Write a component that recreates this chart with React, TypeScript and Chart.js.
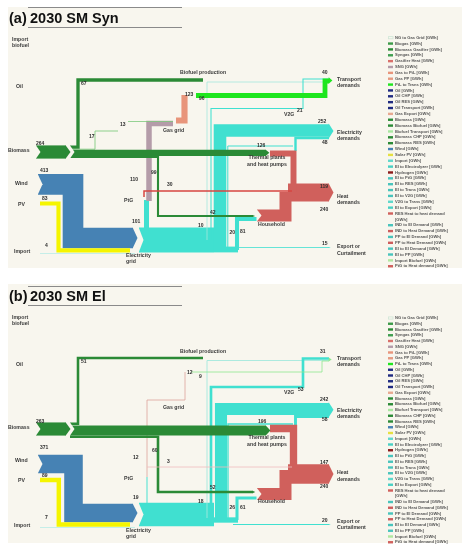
import React, { useEffect, useRef } from 'react';
import { Chart, registerables } from 'chart.js';

Chart.register(...registerables);

// visual thickness: GWh -> data units (1 data unit == 1 px)
const K = 0.05;

// ---------------- DATA: panel (a) 2030 SM Syn ----------------
const SOURCES_A = [264, 413, 83, 4]; // biomass, wind, PV, import
const BIOMASS_USE_A = [67, 17, 13, 126, 42]; // biofuel, biogas, biogas to grid, thermal plants, household
const GAS_A = [101, 110, 123, 96, 30]; // el->PtG, SNG, gas->PtL, PtL->transport, hydrogen
const ELEC_A = [252, 48, 10, 21, 20, 81, 15]; // el demand, PP->el demand, el->trans, V2G, el->PP, el->household, export
const HEAT_A = [119, 240]; // thermal plants -> heat, household -> heat
const NUM_TEXT_A = ['264', '413', '83', '4', '67', '17', '13', '123', '96', '110', '99', '101', '30', '42', '10', '20', '81', '126', '40', '21', '252', '48', '119', '240', '15'];

// ---------------- DATA: panel (b) 2030 SM El ----------------
const SOURCES_B = [263, 371, 89, 7];
const BIOMASS_USE_B = [51, 0, 0, 196, 52];
const GAS_B = [19, 12, 0, 9, 3];
const ELEC_B = [242, 58, 18, 53, 26, 61, 20];
const HEAT_B = [147, 240];
const NUM_TEXT_B = ['263', '371', '89', '7', '51', '12', '9', '12', '60', '19', '3', '52', '18', '26', '61', '196', '31', '53', '242', '58', '147', '240', '20'];

const NODE_TEXT = ['Import', 'biofuel', 'Oil', 'Biomass', 'Wind', 'PV', 'Import', 'Biofuel production', 'Gas grid', 'PtG', 'V2G', 'Electricity', 'grid', 'Thermal plants', 'and heat pumps', 'Household', 'Transport', 'demands', 'Electricity', 'demands', 'Heat', 'demands', 'Export or', 'Curtailment'];

const LEGEND_TEXT = ['NG to Gas Grid [GWh]', 'Biogas [GWh]', 'Biomass Gasifier [GWh]', 'Syngas [GWh]', 'Gasifier Heat [GWh]', 'SNG [GWh]', 'Gas to PtL [GWh]', 'Gas PP [GWh]', 'PtL to Trans [GWh]', 'Oil [GWh]', 'Oil CHP [GWh]', 'Oil RES [GWh]', 'Oil Transport [GWh]', 'Gas Export [GWh]', 'Biomass [GWh]', 'Biomass Biofuel [GWh]', 'Biofuel Transport [GWh]', 'Biomass CHP [GWh]', 'Biomass RES [GWh]', 'Wind [GWh]', 'Solar PV [GWh]', 'Import [GWh]', 'El to Electrolyzer [GWh]', 'Hydrogen [GWh]', 'El to PtG [GWh]', 'El to RES [GWh]', 'El to Trans [GWh]', 'El to V2G [GWh]', 'V2G to Trans [GWh]', 'El to Export [GWh]', 'RES Heat to heat demand|[GWh]', 'IND to El Demand [GWh]', 'IND to Heat Demand [GWh]', 'PP to El Demand [GWh]', 'PP to Heat Demand [GWh]', 'El to El Demand [GWh]', 'El to PP [GWh]', 'Import Biofuel [GWh]', 'PtG to Heat demand [GWh]'];

// ---------------- STYLE ----------------
const CREAM = '#f8f6ee';
const GREEN = '#2b8a36';
const LGREEN = '#7cc97c';
const MAUVE = '#b49ca9';
const SALMON = '#e8957b';
const LIME = '#1ee61e';
const CYAN = '#40e0d0';
const PALE = '#a3e9dc';
const BLUE = '#4682b4';
const YELLOW = '#f5f500';
const RED = '#d0605c';
const TEAL = '#48c4bc';
const NAVY = '#1f2a80';

const LEGEND_COLORS = ['#cfe6d6', '#3c9a48', GREEN, '#3f9e50', '#d9706a', MAUVE, SALMON, '#e59a80', LIME, NAVY, NAVY, NAVY, NAVY, '#e8a890', GREEN, GREEN, '#a8e8a0', GREEN, GREEN, BLUE, '#e6e040', '#5fd8cc', '#48d0c4', '#8b1a1a', TEAL, TEAL, TEAL, TEAL, '#5fd8cc', '#48d0c4', RED, TEAL, '#cd5c5c', TEAL, '#cd5c5c', TEAL, TEAL, '#b0e8a0', RED];

const FLOW_KEYS = ['import', 'elGrid', 'elBridge', 'elTrans', 'v2g', 'elPP', 'elHH', 'export', 'elDemand', 'ppElDemand', 'elPtG', 'ptgGas', 'bioGas', 'bioGas2', 'gasPtL', 'ptlTrans', 'biomass', 'bioFuel', 'bioPP', 'bioHH', 'wind', 'pv', 'heatArrow', 'heatPP', 'heatHH', 'hydrogen'];

const COLORS_A: Record<string, string> = {
  import: '#b8ece6', elGrid: CYAN, elBridge: CYAN, elTrans: PALE, v2g: CYAN, elPP: CYAN, elHH: CYAN, export: CYAN,
  elDemand: CYAN, ppElDemand: CYAN, elPtG: CYAN, ptgGas: MAUVE, bioGas: LGREEN, bioGas2: LGREEN, gasPtL: SALMON,
  ptlTrans: LIME, biomass: GREEN, bioFuel: GREEN, bioPP: GREEN, bioHH: GREEN, wind: BLUE, pv: YELLOW,
  heatArrow: RED, heatPP: RED, heatHH: RED, hydrogen: '#d64541',
};
const COLORS_B: Record<string, string> = { ...COLORS_A, ptgGas: '#dca39a', ptlTrans: '#8ee88e', hydrogen: '#efbcbc' };

function buildValues(src: number[], bio: number[], gas: number[], el: number[], heat: number[]) {
  const v: Record<string, number> = {
    biomass: src[0], wind: src[1], pv: src[2], import: src[3],
    bioFuel: bio[0], bioGas: bio[1], bioGas2: bio[2], bioPP: bio[3], bioHH: bio[4],
    elPtG: gas[0], ptgGas: gas[1], gasPtL: gas[2], ptlTrans: gas[3], hydrogen: gas[4],
    elDemand: el[0], ppElDemand: el[1], elTrans: el[2], v2g: el[3], elPP: el[4], elHH: el[5], export: el[6],
    heatPP: heat[0], heatHH: heat[1],
  };
  v.elGrid = v.wind + v.pv + v.import;
  v.elBridge = v.elPP + v.elHH + v.export;
  v.heatArrow = v.heatPP + v.heatHH;
  return v;
}

// ---------------- LAYOUT (routes in panel coordinates) ----------------
type Pt = [number, number];
const ROUTES_A: Record<string, Pt[]> = {
  biomass: [[36, 152], [66, 152]],
  bioFuel: [[70, 147.1], [78, 147.1], [78, 80], [203, 80]],
  bioGas: [[70, 149.2], [95, 149.2], [95, 131], [118, 131]],
  bioGas2: [[128, 121.5], [173, 121.5]],
  bioPP: [[70, 152.8], [266, 152.8]],
  bioHH: [[70, 157], [158, 157], [158, 216], [253, 216]],
  wind: [[38, 184.3], [73, 184.3], [73, 238], [133, 238]],
  pv: [[40, 203.5], [58.5, 203.5], [58.5, 250.3], [130, 250.3]],
  import: [[40, 253.5], [135, 253.5]],
  elGrid: [[139, 240], [214, 240]],
  elBridge: [[214, 249.5], [238, 249.5]],
  elPtG: [[146.5, 228], [146.5, 200]],
  ptgGas: [[149, 201], [149, 123.5], [173, 123.5]],
  gasPtL: [[176, 120.5], [184.5, 120.5], [184.5, 95]],
  ptlTrans: [[196, 95.5], [325, 95.5], [325, 81], [329, 81]],
  hydrogen: [[144, 197], [144, 191], [292, 191]],
  elDemand: [[220, 252], [220, 130.5], [329, 130.5]],
  ppElDemand: [[295.5, 151], [295.5, 138], [329, 138]],
  elTrans: [[207, 240], [207, 82], [329, 82]],
  v2g: [[211, 240], [211, 108.5], [303, 108.5], [303, 79], [329, 79]],
  elPP: [[227.8, 250], [227.8, 146], [293, 146]],
  elHH: [[237, 250], [237, 219], [257, 219]],
  export: [[233, 247.5], [329, 247.5]],
  heatPP: [[270, 153.5], [293.5, 153.5], [293.5, 192]],
  heatHH: [[257, 215.5], [285.5, 215.5], [285.5, 192]],
  heatArrow: [[288, 192.5], [329, 192.5]],
};
const ROUTES_B: Record<string, Pt[]> = {
  biomass: [[36, 151], [66, 151]],
  bioFuel: [[70, 145.7], [78, 145.7], [78, 80], [203, 80]],
  bioPP: [[70, 152.5], [266, 152.5]],
  bioHH: [[70, 158.7], [158, 158.7], [158, 214], [253, 214]],
  wind: [[38, 186], [73.5, 186], [73.5, 235], [133, 235]],
  pv: [[40, 202], [58.8, 202], [58.8, 246.5], [130, 246.5]],
  import: [[40, 249.5], [135, 249.5]],
  elGrid: [[139, 236.5], [214, 236.5]],
  elBridge: [[214, 242], [238, 242]],
  elPtG: [[147, 226], [147, 199]],
  ptgGas: [[147, 199], [147, 122], [185, 122], [185, 94]],
  ptlTrans: [[191, 94], [322, 94], [322, 83], [329, 83]],
  hydrogen: [[147, 189], [292, 189]],
  elDemand: [[221, 244], [221, 131], [329, 131]],
  ppElDemand: [[295.5, 148], [295.5, 138.5], [329, 138.5]],
  elTrans: [[207, 240], [207, 82.5], [329, 82.5]],
  v2g: [[211, 240], [211, 109], [303, 109], [303, 80.5], [329, 80.5]],
  elPP: [[228, 240], [228, 146], [293, 146]],
  elHH: [[237, 242], [237, 220], [257, 220]],
  export: [[233, 246.5], [329, 246.5]],
  heatPP: [[270, 150.5], [293.5, 150.5], [293.5, 190]],
  heatHH: [[257, 216], [285.5, 216], [285.5, 192]],
  heatArrow: [[288, 196], [329, 196]],
};

type Deco = { keys: string[]; x: number; y: number };
const TIPS_A: Deco[] = [
  { keys: ['biomass'], x: 66, y: 152 }, { keys: ['bioPP'], x: 266, y: 152.8 }, { keys: ['bioHH'], x: 253, y: 216 },
  { keys: ['wind'], x: 133, y: 238 }, { keys: ['elDemand', 'ppElDemand'], x: 329, y: 131.1 },
  { keys: ['ptlTrans', 'v2g', 'elTrans'], x: 329, y: 80.5 }, { keys: ['heatPP', 'heatHH'], x: 329, y: 192.5 },
  { keys: ['export'], x: 329, y: 247.5 },
];
const NOTCHES_A: Deco[] = [
  { keys: ['biomass'], x: 36, y: 152 }, { keys: ['biomass'], x: 70, y: 152 }, { keys: ['wind'], x: 38, y: 184.3 },
  { keys: ['elGrid'], x: 139, y: 240 }, { keys: ['heatHH'], x: 257, y: 215.5 },
];
const TIPS_B: Deco[] = [
  { keys: ['biomass'], x: 66, y: 151 }, { keys: ['bioPP'], x: 266, y: 152.5 }, { keys: ['bioHH'], x: 253, y: 214 },
  { keys: ['wind'], x: 133, y: 235 }, { keys: ['elDemand', 'ppElDemand'], x: 329, y: 131.8 },
  { keys: ['ptlTrans', 'v2g', 'elTrans'], x: 329, y: 81.5 }, { keys: ['heatPP', 'heatHH'], x: 329, y: 196 },
  { keys: ['export'], x: 329, y: 246.5 },
];
const NOTCHES_B: Deco[] = [
  { keys: ['biomass'], x: 36, y: 151 }, { keys: ['biomass'], x: 70, y: 151 }, { keys: ['wind'], x: 38, y: 186 },
  { keys: ['elGrid'], x: 139, y: 236.5 }, { keys: ['heatHH'], x: 257, y: 216 },
];

const NUM_POS_A: Pt[] = [[36, 144], [40, 171], [42, 199], [45, 246], [81, 84], [89, 137], [120, 125], [185, 95], [199, 99], [130, 180], [151, 173], [132, 222], [167, 185], [210, 213], [198, 226], [229.5, 233], [240, 232], [257, 146], [322, 73], [297, 111], [318, 122], [322, 143], [320, 187], [320, 210], [322, 244]];
const NUM_POS_B: Pt[] = [[36, 144], [40, 170], [42, 198], [45, 240], [81, 84], [187, 95], [199, 99], [133, 180], [152, 173], [133, 220], [167, 184], [210, 210], [198, 224], [229.5, 230], [240, 230], [258, 144], [320, 74], [298, 112], [320, 122], [322, 142], [320, 185], [320, 209], [322, 243]];

const NODE_POS_A: Pt[] = [[12, 40], [12, 45.5], [16, 87], [8, 151], [15, 184], [18, 205], [14, 252], [180, 73], [163, 131], [124, 201], [284, 115], [126, 256], [126, 262], [267, 158], [267, 164.5], [258, 225], [337, 80], [337, 86], [337, 133], [337, 139], [337, 197], [337, 203], [337, 247], [337, 253.5]];
const NODE_POS_B: Pt[] = [[12, 40], [12, 45.5], [16, 87], [8, 150], [15, 183], [18, 203], [14, 248], [180, 74], [163, 130], [124, 201], [284, 115], [126, 253], [126, 259], [267, 160], [267, 166.5], [258, 224], [337, 81], [337, 86.5], [337, 133], [337, 138.5], [337, 195], [337, 201.5], [337, 244], [337, 250]];

type PanelCfg = {
  title: string; letter: string; height: number;
  values: Record<string, number>; routes: Record<string, Pt[]>; colors: Record<string, string>;
  tips: Deco[]; notches: Deco[]; numText: string[]; numPos: Pt[]; nodePos: Pt[];
  bg: [number, number, number, number]; lines: [number, number]; legendY0: number; legendStep: number;
};

const FONT = '"Liberation Sans", Arial, sans-serif';

function Panel({ cfg }: { cfg: PanelCfg }) {
  const ref = useRef<HTMLCanvasElement>(null);
  useEffect(() => {
    const canvas = ref.current;
    if (!canvas) return;
    const N = FLOW_KEYS.length;
    const wOf = (chart: any, v: number) => {
      const s = chart.scales.y;
      return Math.abs(s.getPixelForValue(v * K) - s.getPixelForValue(0));
    };
    const datasets = FLOW_KEYS.map((key, i) => ({ key, i }))
      .filter(({ key }) => cfg.routes[key] && cfg.values[key] > 0)
      .map(({ key, i }) => ({
        label: key,
        data: cfg.routes[key].map(([x, y]) => ({ x, y })),
        borderColor: cfg.colors[key],
        backgroundColor: cfg.colors[key],
        borderWidth: (ctx: any) => Math.max(0.8, wOf(ctx.chart, cfg.values[key])),
        pointRadius: 0,
        pointHoverRadius: 0,
        fill: false,
        tension: 0,
        borderJoinStyle: 'miter' as const,
        borderCapStyle: 'butt' as const,
        order: N - i,
      }));

    const deco = {
      id: 'sankeyDeco',
      beforeDraw(chart: any) {
        const { ctx } = chart;
        const xs = chart.scales.x, ys = chart.scales.y;
        const P = (x: number, y: number) => [xs.getPixelForValue(x), ys.getPixelForValue(y)];
        ctx.save();
        const [bx, by, bw, bh] = cfg.bg;
        const [x0, y0] = P(bx, by);
        const [x1, y1] = P(bx + bw, by + bh);
        ctx.fillStyle = CREAM;
        ctx.fillRect(x0, y0, x1 - x0, y1 - y0);
        // title
        ctx.strokeStyle = '#8a8a8a';
        ctx.lineWidth = 1;
        cfg.lines.forEach((ly) => {
          const [a, b] = P(28, ly);
          const [c] = P(182, ly);
          ctx.beginPath();
          ctx.moveTo(a, Math.round(b) + 0.5);
          ctx.lineTo(c, Math.round(b) + 0.5);
          ctx.stroke();
        });
        ctx.fillStyle = '#111';
        ctx.font = `bold 14.5px ${FONT}`;
        ctx.textBaseline = 'alphabetic';
        const [tx, ty] = P(9, 22.5);
        ctx.fillText(cfg.letter, tx, ty);
        const [tx2] = P(30, 0);
        ctx.fillText(cfg.title, tx2, ty);
        ctx.restore();
      },
      afterDatasetsDraw(chart: any) {
        const { ctx } = chart;
        const xs = chart.scales.x, ys = chart.scales.y;
        const P = (x: number, y: number) => [xs.getPixelForValue(x), ys.getPixelForValue(y)];
        const sum = (keys: string[]) => keys.reduce((s, k) => s + (cfg.values[k] || 0), 0);
        ctx.save();
        // notches (chevron cut-ins)
        cfg.notches.forEach((n) => {
          const w = Math.max(0.8, wOf(chart, sum(n.keys)));
          const d = Math.min(4.5, 1.5 + w * 0.3);
          const [x, y] = P(n.x, n.y);
          ctx.fillStyle = CREAM;
          ctx.beginPath();
          ctx.moveTo(x - 0.5, y - w / 2 - 0.6);
          ctx.lineTo(x + d, y);
          ctx.lineTo(x - 0.5, y + w / 2 + 0.6);
          ctx.closePath();
          ctx.fill();
        });
        // arrow tips
        cfg.tips.forEach((t) => {
          const v = sum(t.keys);
          if (v <= 0) return;
          const w = Math.max(0.8, wOf(chart, v));
          const d = Math.min(4.5, 1.5 + w * 0.3);
          const [x, y] = P(t.x, t.y);
          ctx.fillStyle = cfg.colors[t.keys[0]];
          ctx.beginPath();
          ctx.moveTo(x - 0.3, y - w / 2);
          ctx.lineTo(x + d, y);
          ctx.lineTo(x - 0.3, y + w / 2);
          ctx.closePath();
          ctx.fill();
        });
        // node labels
        ctx.textBaseline = 'middle';
        ctx.fillStyle = '#3a3a3a';
        ctx.font = `bold 5.2px ${FONT}`;
        NODE_TEXT.forEach((t, i) => {
          const [x, y] = P(cfg.nodePos[i][0], cfg.nodePos[i][1]);
          ctx.textAlign = i === 13 || i === 14 ? 'center' : 'left';
          ctx.fillText(t, x, y);
        });
        // numbers
        ctx.textAlign = 'left';
        ctx.font = `bold 5px ${FONT}`;
        ctx.fillStyle = '#2e2e2e';
        cfg.numText.forEach((t, i) => {
          const [x, y] = P(cfg.numPos[i][0], cfg.numPos[i][1]);
          ctx.fillText(t, x, y);
        });
        // legend
        ctx.font = `bold 4.1px ${FONT}`;
        let row = 0;
        LEGEND_TEXT.forEach((t, i) => {
          const parts = t.split('|');
          const [lx, ly] = P(388, cfg.legendY0 + row * cfg.legendStep);
          const [lx2] = P(395, 0);
          if (i === 0) {
            ctx.strokeStyle = LEGEND_COLORS[i];
            ctx.lineWidth = 0.8;
            ctx.strokeRect(lx + 0.4, ly - 1.1, 4.6, 2.2);
          } else {
            ctx.fillStyle = LEGEND_COLORS[i];
            ctx.fillRect(lx, ly - 1.2, 5, 2.4);
          }
          ctx.fillStyle = '#555';
          parts.forEach((p, j) => {
            const [, py] = P(0, cfg.legendY0 + (row + j) * cfg.legendStep);
            ctx.fillText(p, lx2, py);
          });
          row += parts.length;
        });
        ctx.restore();
      },
    };

    const chart = new Chart(canvas, {
      type: 'line',
      data: { datasets: datasets as any },
      options: {
        responsive: false,
        animation: false,
        events: [],
        layout: { padding: 0 },
        plugins: { legend: { display: false }, tooltip: { enabled: false }, title: { display: false } },
        scales: {
          x: { type: 'linear', min: 0, max: 462, display: false },
          y: { type: 'linear', min: 0, max: cfg.height, reverse: true, display: false },
        },
      },
      plugins: [deco],
    });
    return () => chart.destroy();
  }, [cfg]);
  return <canvas ref={ref} width={462} height={cfg.height} style={{ display: 'block' }} />;
}

const PANEL_A: PanelCfg = {
  title: '2030 SM Syn', letter: '(a)', height: 278,
  values: buildValues(SOURCES_A, BIOMASS_USE_A, GAS_A, ELEC_A, HEAT_A),
  routes: ROUTES_A, colors: COLORS_A, tips: TIPS_A, notches: NOTCHES_A,
  numText: NUM_TEXT_A, numPos: NUM_POS_A, nodePos: NODE_POS_A,
  bg: [8, 7, 454, 261], lines: [7, 27], legendY0: 37.7, legendStep: 5.86,
};
const PANEL_B: PanelCfg = {
  title: '2030 SM El', letter: '(b)', height: 272,
  values: buildValues(SOURCES_B, BIOMASS_USE_B, GAS_B, ELEC_B, HEAT_B),
  routes: ROUTES_B, colors: COLORS_B, tips: TIPS_B, notches: NOTCHES_B,
  numText: NUM_TEXT_B, numPos: NUM_POS_B, nodePos: NODE_POS_B,
  bg: [8, 6, 454, 259], lines: [8, 27], legendY0: 40, legendStep: 5.75,
};

export default function App() {
  return (
    <div style={{ position: 'absolute', left: 0, top: 0, width: 462, height: 550, background: '#fff' }}>
      <Panel cfg={PANEL_A} />
      <Panel cfg={PANEL_B} />
    </div>
  );
}
